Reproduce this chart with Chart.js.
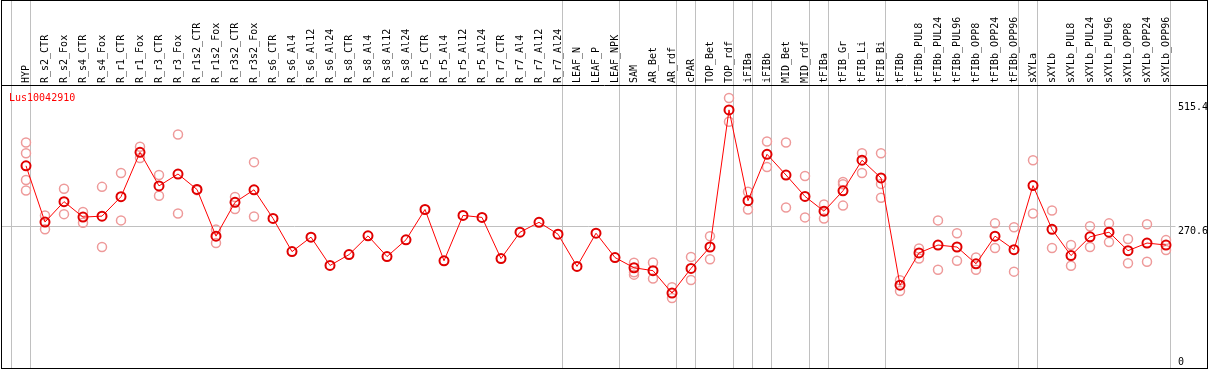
<!DOCTYPE html>
<html>
<head>
<meta charset="utf-8">
<script src="https://cdn.jsdelivr.net/npm/chart.js@4/dist/chart.umd.min.js"></script>
<style>
  html, body { margin: 0; padding: 0; background: #fff; }
  canvas { display: block; }
</style>
</head>
<body>
<canvas id="chart" width="1209" height="370"></canvas>
<script>
const geneId = "Lus10042910";

const categories = [
  "HYP", "R_s2_CTR", "R_s2_Fox", "R_s4_CTR", "R_s4_Fox", "R_r1_CTR", "R_r1_Fox",
  "R_r3_CTR", "R_r3_Fox", "R_r1s2_CTR", "R_r1s2_Fox", "R_r3s2_CTR", "R_r3s2_Fox",
  "R_s6_CTR", "R_s6_Al4", "R_s6_Al12", "R_s6_Al24", "R_s8_CTR", "R_s8_Al4",
  "R_s8_Al12", "R_s8_Al24", "R_r5_CTR", "R_r5_Al4", "R_r5_Al12", "R_r5_Al24",
  "R_r7_CTR", "R_r7_Al4", "R_r7_Al12", "R_r7_Al24", "LEAF_N", "LEAF_P", "LEAF_NPK",
  "SAM", "AR_Bet", "AR_rdf", "cPAR", "TOP_Bet", "TOP_rdf", "iFIBa", "iFIBb",
  "MID_Bet", "MID_rdf", "tFIBa", "tFIB_Gr", "tFIB_Li", "tFIB_Bi", "tFIBb",
  "tFIBb_PUL8", "tFIBb_PUL24", "tFIBb_PUL96", "tFIBb_OPP8", "tFIBb_OPP24", "tFIBb_OPP96",
  "sXYLa", "sXYLb", "sXYLb_PUL8", "sXYLb_PUL24", "sXYLb_PUL96", "sXYLb_OPP8",
  "sXYLb_OPP24", "sXYLb_OPP96"
];

// mean expression per sample
const means = [
  390.0, 279.0, 319.3, 288.8, 290.7, 329.0, 416.6, 350.4, 373.8, 343.3,
  251.2, 318.0, 342.7, 286.2, 220.7, 249.3, 193.4, 214.8, 251.8, 210.9,
  244.0, 303.8, 202.6, 292.1, 288.2, 207.0, 259.0, 278.5, 255.1, 191.5,
  257.0, 209.0, 188.9, 183.1, 138.9, 187.6, 229.8, 500.3, 321.2, 412.7,
  371.8, 329.6, 300.4, 340.7, 401.0, 366.0, 154.5, 218.1, 233.7, 229.8,
  196.7, 251.2, 224.6, 351.0, 264.8, 212.9, 249.9, 259.0, 222.6, 237.6, 233.7
];

// individual replicates per sample
const replicates = [
  [436.1, 414.7, 362.1, 341.3], [292.1, 264.8], [344.6, 294.6], [299.1, 277.7],
  [348.5, 229.8], [375.7, 282.3], [427.5, 405.5], [371.8, 331.0], [451.6, 296.0],
  [343.9, 342.0], [264.1, 237.6], [328.3, 304.9], [397.2, 290.1],
  [], [], [], [], [], [], [], [], [], [], [], [], [], [], [], [], [], [], [],
  [198.7, 179.8, 175.3], [199.3, 167.5], [150.6, 129.2], [210.3, 164.8],
  [251.2, 205.7], [523.6, 476.9], [338.8, 303.8], [438.0, 387.4], [436.1, 307.6],
  [369.9, 288.2], [313.5, 286.2], [358.2, 353.6, 311.5], [414.7, 375.7],
  [414.7, 354.3, 327.1], [164.2, 142.8], [227.1, 207.0], [282.3, 185.1],
  [257.0, 202.6], [209.0, 185.1], [276.5, 227.9], [268.7, 181.2], [401.0, 296.0],
  [301.8, 227.9], [233.7, 192.8], [270.6, 229.8], [276.5, 239.5], [245.6, 197.9],
  [274.6, 200.6], [243.4, 224.0]
];

const yTicks = [0, 270.6, 515.4];
const yMax = 549.4;
const gridValue = 270.6;
// group separators sit before these sample indexes
const separators = [0, 1, 29, 32, 35, 36, 38, 39, 40, 42, 43, 46, 53, 54, 61];

const MONO = "'DejaVu Sans Mono', 'Liberation Mono', monospace";

const repPoints = [];
replicates.forEach((reps, i) => {
  reps.forEach(v => repPoints.push({ x: categories[i], y: v }));
});

const framePlugin = {
  id: "frame",
  beforeDatasetsDraw(chart) {
    const ctx = chart.ctx;
    const xs = chart.scales.x;
    const ys = chart.scales.y;
    const step = xs.getPixelForValue(1) - xs.getPixelForValue(0);
    ctx.save();
    ctx.strokeStyle = "#c0c0c0";
    ctx.lineWidth = 1;
    separators.forEach(i => {
      const px = Math.round(xs.getPixelForValue(0) + i * step - 15) + 0.5;
      ctx.beginPath();
      ctx.moveTo(px, 0);
      ctx.lineTo(px, 368);
      ctx.stroke();
    });
    const gy = Math.round(ys.getPixelForValue(gridValue)) + 0.5;
    ctx.beginPath();
    ctx.moveTo(1, gy);
    ctx.lineTo(chart.chartArea.right, gy);
    ctx.stroke();
    ctx.restore();
  },
  afterDraw(chart) {
    const ctx = chart.ctx;
    const ys = chart.scales.y;
    ctx.save();
    ctx.strokeStyle = "#000";
    ctx.lineWidth = 1;
    ctx.strokeRect(1.5, 0.5, 1206, 368);
    ctx.beginPath();
    ctx.moveTo(1, 85.5);
    ctx.lineTo(1208, 85.5);
    ctx.stroke();

    ctx.font = "10px " + MONO;
    ctx.textBaseline = "alphabetic";
    ctx.textAlign = "left";
    ctx.fillStyle = "#000";
    ys.ticks.forEach(t => {
      const py = ys.getPixelForValue(t.value);
      ctx.fillText(String(t.value), 1178, Math.min(py + 8, 365));
    });

    ctx.fillStyle = "#ff0000";
    ctx.fillText(geneId, 9, 100.5);
    ctx.restore();
  }
};

new Chart(document.getElementById("chart"), {
  type: "line",
  data: {
    labels: categories,
    datasets: [
      {
        label: "mean",
        data: means,
        borderColor: "#ff0000",
        borderWidth: 1,
        pointRadius: 4.5,
        pointBorderWidth: 2,
        pointBorderColor: "#e00000",
        pointBackgroundColor: "rgba(0,0,0,0)",
        tension: 0,
        order: 0
      },
      {
        label: "replicates",
        data: repPoints,
        showLine: false,
        pointRadius: 4.5,
        pointBorderWidth: 1.5,
        pointBorderColor: "#ee9a9a",
        pointBackgroundColor: "rgba(0,0,0,0)",
        order: 1
      }
    ]
  },
  options: {
    responsive: false,
    animation: false,
    layout: { padding: { left: 16.5, right: 33.5, top: 0, bottom: 2.6 } },
    plugins: { legend: { display: false }, tooltip: { enabled: false } },
    scales: {
      x: {
        type: "category",
        position: "top",
        offset: true,
        grid: { display: false },
        border: { display: false },
        ticks: {
          autoSkip: false,
          minRotation: 90,
          maxRotation: 90,
          padding: -6,
          labelOffset: 12,
          color: "#000",
          font: { family: MONO, size: 10 }
        },
        afterFit(scale) { scale.height = 85; }
      },
      y: {
        position: "right",
        min: 0,
        max: yMax,
        grid: { display: false, drawTicks: false },
        border: { display: false },
        ticks: { display: false },
        afterBuildTicks(scale) { scale.ticks = yTicks.map(v => ({ value: v })); },
        afterFit(scale) { scale.width = 0; }
      }
    }
  },
  plugins: [framePlugin]
});
</script>
</body>
</html>
